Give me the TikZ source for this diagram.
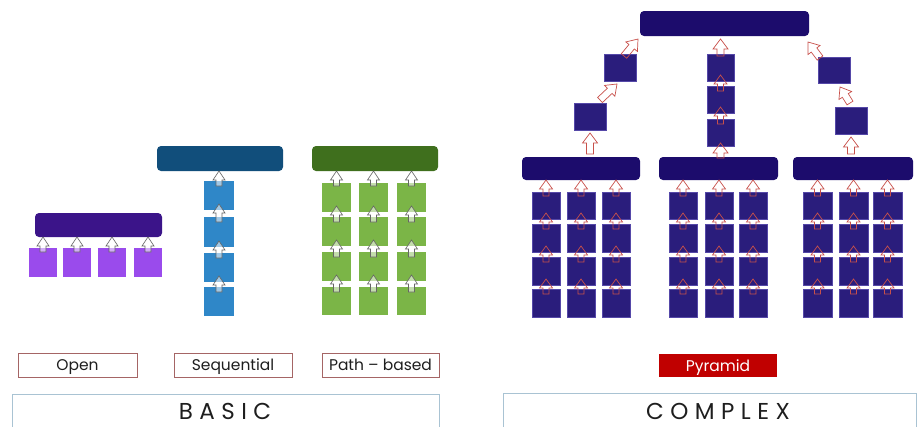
\documentclass[tikz,border=0pt]{standalone}
\usepackage{fontspec}
\setmainfont{Poppins}
\newfontfamily\widefont[LetterSpace=28]{Poppins}
\usetikzlibrary{calc}
\definecolor{openbar}{HTML}{3B1489}
\definecolor{opensq}{HTML}{9A4BEC}
\definecolor{seqbar}{HTML}{114E7B}
\definecolor{seqsq}{HTML}{2F87C8}
\definecolor{pathbar}{HTML}{3F6F1D}
\definecolor{pathsq}{HTML}{7BB547}
\definecolor{pyrbar}{HTML}{1C0C6C}
\definecolor{pyrsq}{HTML}{2A1D7C}
\definecolor{pyrsqb}{HTML}{5548A8}
\definecolor{pyrarrow}{HTML}{C8504A}
\definecolor{lblborder}{HTML}{A56565}
\definecolor{frameline}{HTML}{A9C3D3}
\definecolor{pyrred}{HTML}{C00000}
\definecolor{txt}{HTML}{1E1E1E}
\newcommand\aw{3pt}
\newcommand\aW{6pt}
\newcommand\ah{9pt}
% box from corners: style, x1, y1, x2, y2, name, text
\newcommand\bx[7]{\node[#1,minimum width={(#4-#2)*1pt},minimum height={(#5-#3)*1pt}] (#6) at ({(#2+#4)/2},{(#3+#5)/2}) {#7};}
% block arrow from start to tip
\newcommand\blk[3][]{%
  \coordinate (bS) at (#2); \coordinate (bT) at (#3);
  \draw[basicarrow,#1] ($(bS)!\aw!90:(bT)$) -- ($(bT)!\ah!(bS)!\aw!-90:(bS)$) -- ($(bT)!\ah!(bS)!\aW!-90:(bS)$) -- (bT) -- ($(bT)!\ah!(bS)!\aW!90:(bS)$) -- ($(bT)!\ah!(bS)!\aw!90:(bS)$) -- ($(bS)!\aw!-90:(bT)$) -- cycle;}
\tikzset{
  boxbase/.style={inner sep=0pt, outer sep=0pt},
  barbox/.style={boxbase, rounded corners=4pt},
  openbarbox/.style={barbox, fill=openbar},
  opensqbox/.style={boxbase, fill=opensq},
  seqbarbox/.style={barbox, fill=seqbar},
  seqsqbox/.style={boxbase, fill=seqsq},
  pathbarbox/.style={barbox, fill=pathbar},
  pathsqbox/.style={boxbase, fill=pathsq},
  pyrbarbox/.style={barbox, fill=pyrbar},
  pyrsqbox/.style={boxbase, fill=pyrsq, draw=pyrsqb, line width=0.6pt},
  lblbox/.style={boxbase, draw=lblborder, line width=0.7pt, text=txt, text height=11pt, text depth=0pt, font=\fontsize{15.5}{18}\selectfont},
  pyrlbl/.style={boxbase, fill=pyrred, text=white, text height=11pt, text depth=0pt, font=\fontsize{15.5}{18}\selectfont},
  framebox/.style={boxbase, draw=frameline, line width=0.8pt},
  bigtext/.style={text=txt, font=\widefont\fontsize{23}{26}\selectfont, inner sep=0pt},
  basicarrow/.style={draw=black!60, fill=white, fill opacity=0.55, line width=0.6pt, line join=miter},
  pyrarr/.style={draw=pyrarrow, fill=none, line width=0.7pt},
  bigarr/.code={\renewcommand\aw{3.5pt}\renewcommand\aW{7.5pt}\renewcommand\ah{10pt}},
  midarr/.code={\renewcommand\aw{3pt}\renewcommand\aW{6.5pt}\renewcommand\ah{9pt}},
}
\begin{document}
\begin{tikzpicture}[x=1pt,y=-1pt]
\fill[white] (0,0) rectangle (918,426);
\useasboundingbox (0,0) rectangle (918,426);

% ---------- Open ----------
\bx{openbarbox}{35}{213}{162}{237}{ob}{}
\foreach \i/\x in {1/29,2/63,3/98,4/134}{
  \bx{opensqbox}{\x}{248}{\x+28}{277}{o\i}{}
  \blk{[yshift=-4pt]o\i.north}{ob.south -| o\i}
}

% ---------- Sequential ----------
\bx{seqbarbox}{157}{146}{283}{171}{sb}{}
\foreach \i/\ya/\yb in {1/181/210,2/217/247,3/253/282,4/287/316}{
  \bx{seqsqbox}{204}{\ya}{234}{\yb}{s\i}{}
}
\blk{[yshift=-5pt]s1.north}{sb.south -| s1}
\foreach \i/\j in {2/1,3/2,4/3}{
  \blk{[yshift=-5pt]s\i.north}{[yshift=6pt]s\j.south}
}

% ---------- Path-based ----------
\bx{pathbarbox}{312}{146}{438}{171}{pb}{}
\foreach \c/\x in {1/322,2/359,3/397}{
  \foreach \r/\ya/\yb in {1/183/212,2/217/246,3/252/281,4/287/315}{
    \bx{pathsqbox}{\x}{\ya}{\x+29}{\yb}{p\c-\r}{}
  }
  \blk{[yshift=-3pt]p\c-1.north}{pb.south -| p\c-1}
  \foreach \r/\q in {2/1,3/2,4/3}{
    \blk{[yshift=-5pt]p\c-\r.north}{[yshift=6pt]p\c-\q.south}
  }
}

% ---------- Labels (basic) ----------
\bx{lblbox}{18}{353}{137}{377}{lopen}{Open}
\bx{lblbox}{174}{353}{292}{377}{lseq}{Sequential}
\bx{lblbox}{322}{353}{439}{377}{lpath}{Path -- based}
\bx{framebox}{12}{394}{439}{445}{basicframe}{}
\node[bigtext, anchor=base] (basictxt) at (225,419) {BASIC};

% ---------- Pyramid ----------
\bx{pyrbarbox}{640}{11}{809}{36}{tb}{}
\bx{pyrsqbox}{604}{54}{636}{81}{lc1}{}
\bx{pyrsqbox}{574}{103}{606}{130}{lc2}{}
\bx{pyrsqbox}{707}{54}{734}{81}{m1}{}
\bx{pyrsqbox}{707}{86}{734}{113}{m2}{}
\bx{pyrsqbox}{707}{119}{734}{146}{m3}{}
\bx{pyrsqbox}{818}{57}{850}{83}{rc1}{}
\bx{pyrsqbox}{835}{107}{867}{134}{rc2}{}
\bx{pyrbarbox}{522}{157}{640}{180}{lb}{}
\bx{pyrbarbox}{659}{157}{778}{180}{mb}{}
\bx{pyrbarbox}{793}{157}{913}{180}{rb}{}

\foreach \g/\bar/\xa/\xb/\xc/\w in {L/lb/532/567/602/28, M/mb/669/705/739/28, R/rb/803/839/873/29}{
  \foreach \c/\x in {1/\xa,2/\xb,3/\xc}{
    \foreach \r/\ya/\yb in {1/192/219,2/224/252,3/257/285,4/289/317}{
      \bx{pyrsqbox}{\x}{\ya}{\x+\w}{\yb}{\g\c-\r}{}
    }
    \blk[pyrarr,midarr]{[yshift=-4pt]\g\c-1.north}{\bar.south -| \g\c-1}
    \foreach \r/\q in {2/1,3/2,4/3}{
      \blk[pyrarr,midarr]{[yshift=-5pt]\g\c-\r.north}{[yshift=6pt]\g\c-\q.south}
    }
  }
}

% upper chains
\blk[pyrarr,bigarr]{[yshift=3pt]lb.north -| lc2}{[yshift=-3pt]lc2.south}
\blk[pyrarr,bigarr]{[shift={(10pt,3pt)}]lc2.north}{[shift={(-3pt,-3pt)}]lc1.south}
\blk[pyrarr,bigarr]{[shift={(4pt,-2pt)}]lc1.north}{[shift={(-2pt,-3pt)}]tb.south west}
\blk[pyrarr,bigarr]{[yshift=-1pt]mb.north -| m3}{[yshift=3pt]m3.south}
\blk[pyrarr,midarr]{[yshift=-5pt]m3.north}{[yshift=6pt]m2.south}
\blk[pyrarr,midarr]{[yshift=-5pt]m2.north}{[yshift=6pt]m1.south}
\blk[pyrarr,bigarr]{[yshift=-2pt]m1.north}{[yshift=-3pt]tb.south -| m1}
\blk[pyrarr,bigarr]{[yshift=3pt]rb.north -| rc2}{[yshift=-3pt]rc2.south}
\blk[pyrarr,bigarr]{[shift={(-1pt,4pt)}]rc2.north}{[shift={(6pt,-4pt)}]rc1.south}
\blk[pyrarr,bigarr]{[shift={(2pt,-1pt)}]rc1.north west}{[shift={(-1pt,-6pt)}]tb.south east}

% ---------- Labels (complex) ----------
\bx{pyrlbl}{659}{354}{777}{377}{lpyr}{Pyramid}
\bx{framebox}{503}{393}{916}{445}{complexframe}{}
\node[bigtext, anchor=base] (complextxt) at (718,419) {COMPLEX};
\end{tikzpicture}
\end{document}
